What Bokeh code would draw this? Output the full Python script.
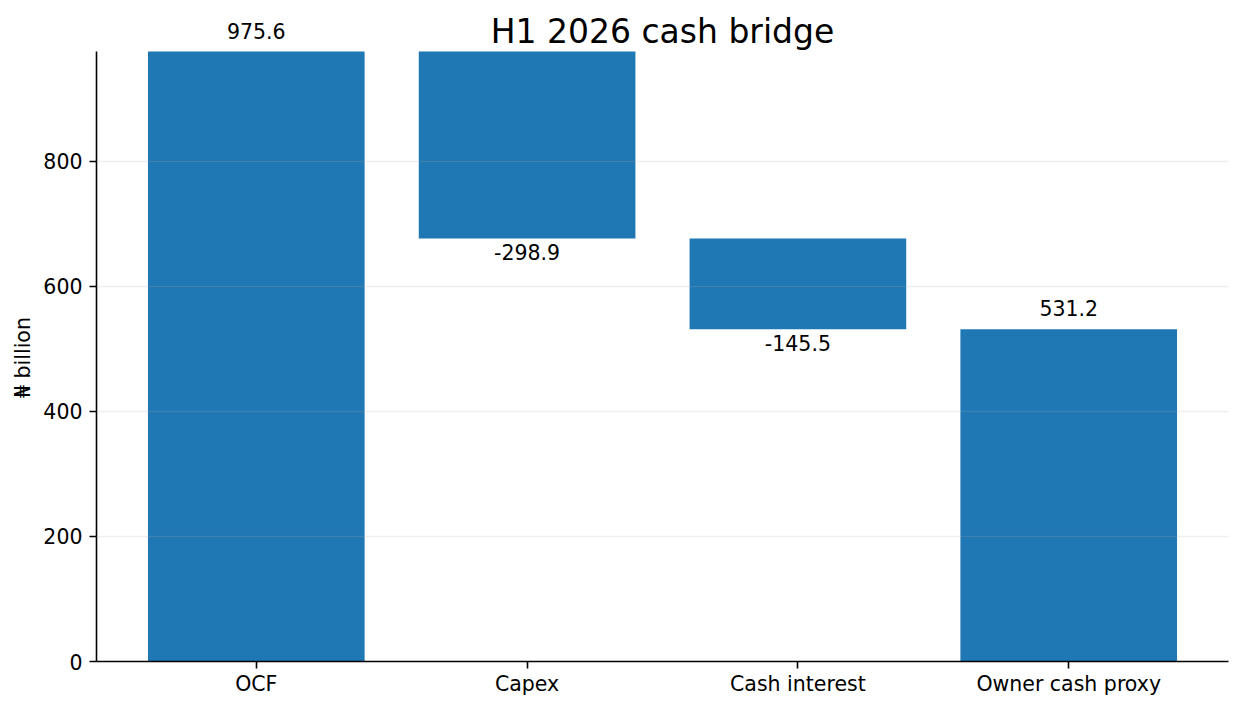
from bokeh.plotting import figure
from bokeh.models import Range1d, FixedTicker, ColumnDataSource, Label, Title
from bokeh.embed import file_html
from bokeh.resources import INLINE

# ---- data ----
categories = ["OCF", "Capex", "Cash interest", "Owner cash proxy"]
steps = [975.6, -298.9, -145.5, 531.2]   # first and last are totals
kinds = ["total", "delta", "delta", "total"]
y_ticks = [0, 200, 400, 600, 800]
title_text = "H1 2026 cash bridge"
y_label = "₦ billion"

# ---- derive waterfall geometry from data ----
bottoms, tops, label_txt = [], [], []
running = 0.0
for v, k in zip(steps, kinds):
    if k == "total":
        b, t = 0.0, v
        running = v
    else:
        start = running
        running = running + v
        b, t = min(start, running), max(start, running)
    bottoms.append(b)
    tops.append(t)
    label_txt.append(f"{v:.1f}")

xs = list(range(len(categories)))
ymax = max(tops)

FONT = "DejaVu Sans"
BLUE = "#1f77b4"

# layout: the axes area is 610px tall; the frame extends above it to the top
# of the canvas so that the title and top value label are drawn inside it.
AXES_H = 610
TOP_PAD = 51
FRAME_H = AXES_H + TOP_PAD
YLABEL_LEN = 83   # approx. rendered length of the y-axis title, px

p = figure(
    frame_width=1132, frame_height=FRAME_H,
    x_range=Range1d(-0.59, len(categories) - 1 + 0.59),
    y_range=Range1d(0, ymax * FRAME_H / AXES_H),
    output_backend="svg", toolbar_location=None,
    min_border_left=96, min_border_right=13, min_border_top=0, min_border_bottom=48,
)
p.outline_line_color = None
p.background_fill_color = "white"
p.border_fill_color = "white"

src = ColumnDataSource(dict(x=xs, bottom=bottoms, top=tops))
p.vbar(x="x", bottom="bottom", top="top", width=0.8, source=src,
       fill_color=BLUE, line_color=None)

# grid
p.xgrid.visible = False
p.ygrid.ticker = FixedTicker(ticks=y_ticks[1:])
p.ygrid.grid_line_color = "#b0b0b0"
p.ygrid.grid_line_alpha = 0.2
p.ygrid.grid_line_width = 1.6
p.ygrid.level = "overlay"

# axes
for ax in (p.xaxis[0], p.yaxis[0]):
    ax.axis_line_color = "black"
    ax.axis_line_width = 1.6
    ax.major_tick_line_color = "black"
    ax.major_tick_line_width = 1.6
    ax.major_tick_out = 7
    ax.major_tick_in = 0
    ax.minor_tick_line_color = None
    ax.major_label_text_font = FONT
    ax.major_label_text_font_size = "20.5px"
    ax.major_label_text_color = "black"
    ax.major_label_standoff = 7

p.xaxis.ticker = FixedTicker(ticks=xs)
p.xaxis.major_label_overrides = {i: c for i, c in zip(xs, categories)}
p.xaxis.major_label_standoff = 3
p.yaxis.ticker = FixedTicker(ticks=y_ticks)
p.yaxis.bounds = (0, ymax)

# y-axis title, centred on the axes area (not on the taller frame)
p.add_layout(Title(text=y_label, align="left",
                   offset=AXES_H / 2 - YLABEL_LEN / 2,
                   standoff=11, text_font=FONT, text_font_size="20.5px",
                   text_font_style="normal", text_color="black"), "left")

# value labels
for x, k, b, t, txt in zip(xs, kinds, bottoms, tops, label_txt):
    if k == "total":
        yy, off = t, 21
    else:
        yy, off = b, -14
    p.add_layout(Label(x=x, y=yy, text=txt, y_offset=off,
                       text_align="center", text_baseline="alphabetic",
                       text_font=FONT, text_font_size="20.5px", text_color="black"))

# chart title
p.add_layout(Label(x=(len(categories) - 1) / 2, y=ymax, text=title_text, y_offset=20,
                   text_align="center", text_baseline="alphabetic",
                   text_font=FONT, text_font_size="33px", text_color="black"))

open("out.html", "w").write(file_html(p, INLINE))
